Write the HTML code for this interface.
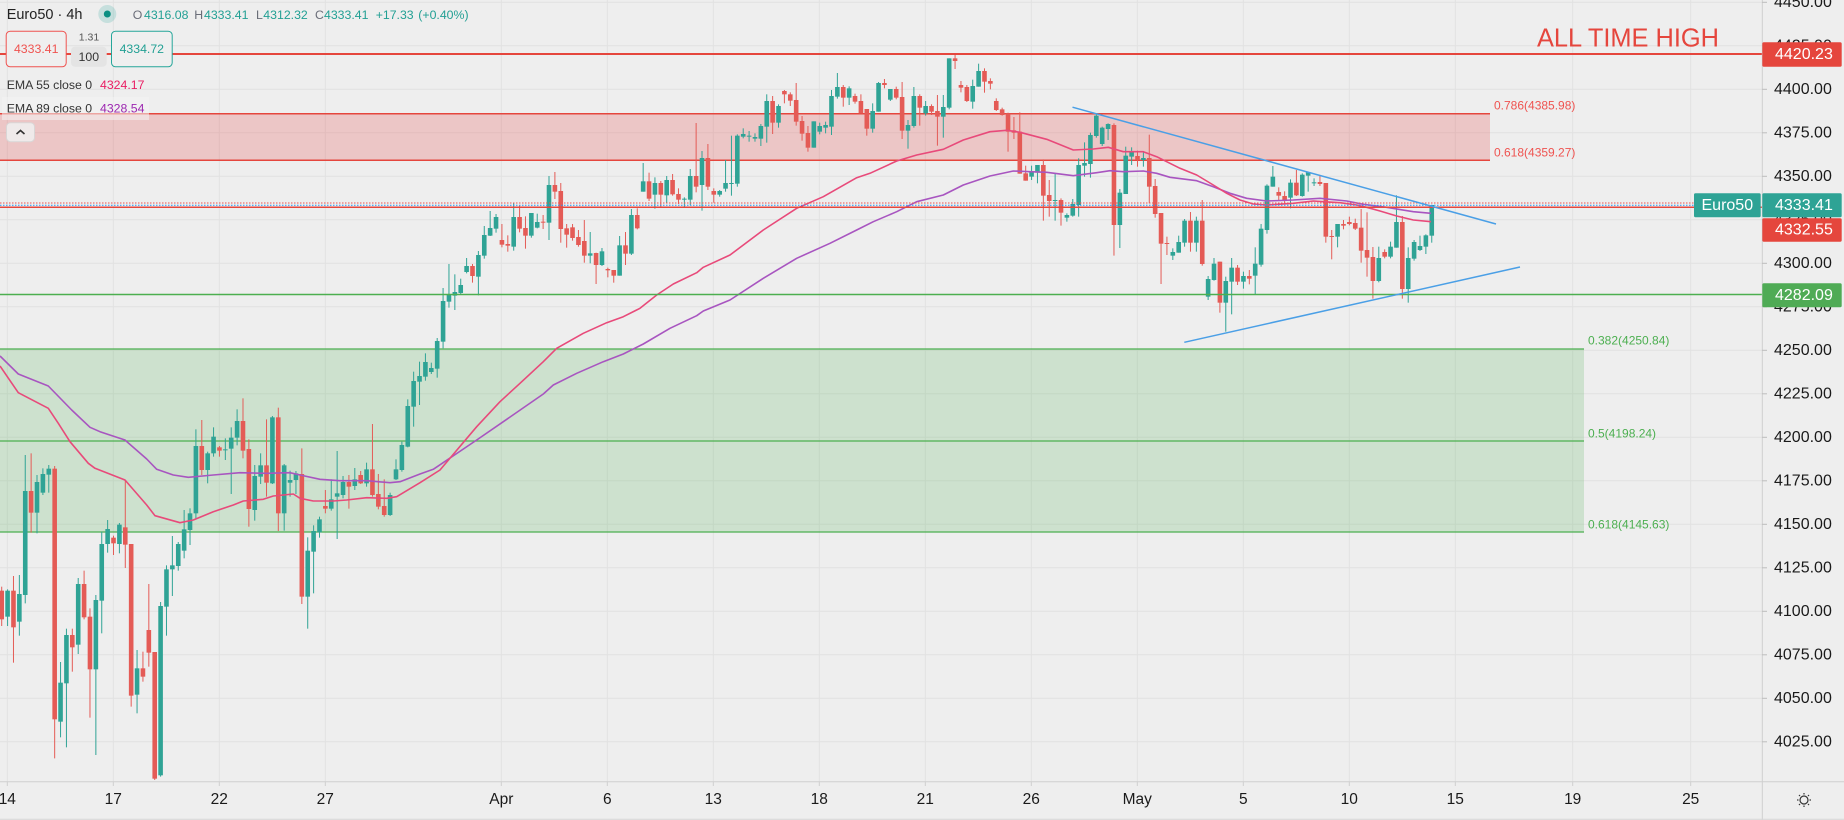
<!DOCTYPE html>
<html><head><meta charset="utf-8">
<style>
html,body{margin:0;padding:0;background:#eeeeee;width:1844px;height:820px;overflow:hidden}
svg{display:block}
text{font-family:"Liberation Sans",Arial,sans-serif}
</style></head>
<body>
<svg id="chart" width="1844" height="820" viewBox="0 0 1844 820" xmlns="http://www.w3.org/2000/svg">
<rect x="0" y="0" width="1844" height="820" fill="#eeeeee"/>
<!-- grid -->
<g stroke="#e1e1e1" stroke-width="1">
<line x1="0" x2="1762" y1="2.3" y2="2.3"/><line x1="0" x2="1762" y1="45.8" y2="45.8"/><line x1="0" x2="1762" y1="89.3" y2="89.3"/><line x1="0" x2="1762" y1="132.8" y2="132.8"/><line x1="0" x2="1762" y1="176.3" y2="176.3"/><line x1="0" x2="1762" y1="219.8" y2="219.8"/><line x1="0" x2="1762" y1="263.3" y2="263.3"/><line x1="0" x2="1762" y1="306.8" y2="306.8"/><line x1="0" x2="1762" y1="350.3" y2="350.3"/><line x1="0" x2="1762" y1="393.8" y2="393.8"/><line x1="0" x2="1762" y1="437.3" y2="437.3"/><line x1="0" x2="1762" y1="480.8" y2="480.8"/><line x1="0" x2="1762" y1="524.3" y2="524.3"/><line x1="0" x2="1762" y1="567.8" y2="567.8"/><line x1="0" x2="1762" y1="611.3" y2="611.3"/><line x1="0" x2="1762" y1="654.8" y2="654.8"/><line x1="0" x2="1762" y1="698.3" y2="698.3"/><line x1="0" x2="1762" y1="741.8" y2="741.8"/>
<line x1="7.3" x2="7.3" y1="0" y2="785"/><line x1="113.3" x2="113.3" y1="0" y2="785"/><line x1="219.3" x2="219.3" y1="0" y2="785"/><line x1="325.3" x2="325.3" y1="0" y2="785"/><line x1="501.3" x2="501.3" y1="0" y2="785"/><line x1="607.3" x2="607.3" y1="0" y2="785"/><line x1="713.3" x2="713.3" y1="0" y2="785"/><line x1="819.3" x2="819.3" y1="0" y2="785"/><line x1="925.3" x2="925.3" y1="0" y2="785"/><line x1="1031.3" x2="1031.3" y1="0" y2="785"/><line x1="1137.3" x2="1137.3" y1="0" y2="785"/><line x1="1243.3" x2="1243.3" y1="0" y2="785"/><line x1="1349.3" x2="1349.3" y1="0" y2="785"/><line x1="1455.3" x2="1455.3" y1="0" y2="785"/><line x1="1572.7" x2="1572.7" y1="0" y2="785"/><line x1="1690.7" x2="1690.7" y1="0" y2="785"/>
</g>
<!-- fib zones -->
<rect x="0" y="113.7" width="1490" height="46.6" fill="rgba(230,60,60,0.22)"/>
<line x1="0" x2="1490" y1="113.7" y2="113.7" stroke="#e5463d" stroke-width="1.5"/>
<line x1="0" x2="1490" y1="160.3" y2="160.3" stroke="#e5463d" stroke-width="1.5"/>
<rect x="0" y="349" width="1584" height="183" fill="rgba(76,175,80,0.2)"/>
<line x1="0" x2="1584" y1="349" y2="349" stroke="#4caf50" stroke-width="1.3"/>
<line x1="0" x2="1584" y1="441" y2="441" stroke="#4caf50" stroke-width="1.3"/>
<line x1="0" x2="1584" y1="532" y2="532" stroke="#4caf50" stroke-width="1.3"/>
<g font-size="12" dominant-baseline="central">
<text x="1494" y="105.7" fill="#ef5350">0.786(4385.98)</text>
<text x="1494" y="152.7" fill="#ef5350">0.618(4359.27)</text>
<text x="1588" y="340.7" fill="#4caf50">0.382(4250.84)</text>
<text x="1588" y="433.3" fill="#4caf50">0.5(4198.24)</text>
<text x="1588" y="524.3" fill="#4caf50">0.618(4145.63)</text>
</g>
<!-- candles -->
<g id="candles"></g>
<!-- EMAs -->
<polyline fill="none" stroke="#a855c0" stroke-width="1.6" stroke-linejoin="round" points="0,356 18.3,374 48.3,386 71.7,410 90,427.3 100,431.7 125,440 146.7,459 156.7,469.3 173.3,475 188.3,477.3 213.3,475 240,472.7 266.7,473.3 290,472.7 300,475 320,479.3 340,480.7 366.7,480.7 390,482.7 400,481.7 420,474 433.3,469.3 476.7,440 503.3,421.7 543.3,394 553.3,385 576.7,373.3 603.3,361.7 623.3,354 643.3,344 670,328.3 696.7,315.7 703.3,311 730,300 763.3,278.3 796.7,258.3 830,243.3 856.7,230 873.3,221.7 896.7,211.7 916.7,201.7 943.3,195 963.3,185 990,176 1013.3,171 1030,171.7 1046.7,172.3 1073.3,175.7 1096.7,172.7 1110,170.7 1123.3,171.7 1143.3,171 1156.7,173.3 1170,177.3 1196.7,180.7 1213.3,186.7 1230,193.3 1246.7,198.3 1266.7,201 1293.3,200 1320,198.3 1346.7,201 1363.3,204.3 1386.7,207.3 1413.3,211.7 1431,213.3"/>
<polyline fill="none" stroke="#e84a7a" stroke-width="1.6" stroke-linejoin="round" points="0,366 18.3,392.7 48.3,408.3 58.3,423.3 70,441.7 88.3,463.3 95,468.3 125,480 146.7,505 155,515.7 180,522.7 193.3,520 213.3,511.7 233.3,505 243.3,501 263.3,499.3 273.3,496 293.3,494 300,498.3 313.3,501 333.3,501 346.7,500 366.7,497.7 386.7,498.3 396.7,496.7 420,482.7 440,470 476.7,426.7 500,401.7 520,383.3 543.3,361.7 556.7,348.3 583.3,333.3 606.7,322.7 623.3,316.7 640,308.3 656.7,295 673.3,284 696.7,272.7 703.3,267.3 730,255 763.3,230 796.7,208.3 823.3,196.7 856.7,177.7 870,173.3 896.7,161 916.7,155 943.3,149.3 963.3,140 990,131.7 1006.7,130.3 1020,132.3 1046.7,139.3 1073.3,150 1093.3,149 1108.3,147.3 1123.3,151.7 1143.3,151.7 1156.7,156.7 1166.7,161.7 1180,168.3 1196.7,175 1213.3,185 1226.7,193.3 1240,200 1253.3,204 1266.7,205 1293.3,203.3 1313.3,201 1323.3,201.7 1340,202.7 1356.7,205 1366.7,207.3 1380,211 1396.7,216 1413.3,220 1431,221.7"/>
<!-- horizontal lines -->
<line x1="0" x2="1762" y1="54" y2="54" stroke="#e5463d" stroke-width="2"/>
<line x1="0" x2="1694" y1="203" y2="203" stroke="#ef5350" stroke-width="1" stroke-dasharray="1.5 1.5"/>
<line x1="0" x2="1694" y1="205.3" y2="205.3" stroke="#2196f3" stroke-width="1" stroke-dasharray="1.5 1.5"/>
<line x1="0" x2="1762" y1="207.2" y2="207.2" stroke="#e5463d" stroke-width="1.5"/>
<line x1="0" x2="1762" y1="294.5" y2="294.5" stroke="#4caf50" stroke-width="1.5"/>
<!-- trendlines -->
<line x1="1072.5" y1="107.2" x2="1496" y2="224" stroke="#4a9fe6" stroke-width="1.5"/>
<line x1="1184.3" y1="342.3" x2="1520" y2="267" stroke="#4a9fe6" stroke-width="1.5"/>
<text x="1537" y="46.7" font-size="26" fill="#e5463d" textLength="182" lengthAdjust="spacingAndGlyphs">ALL TIME HIGH</text>
<!-- legend -->
<text x="6.7" y="15" font-size="14.5" fill="#222" dominant-baseline="central">Euro50 · 4h</text>
<circle cx="107.3" cy="14" r="9" fill="rgba(38,166,154,0.2)"/>
<circle cx="107.3" cy="14" r="3.5" fill="#0b8f82"/>
<g font-size="12.3" dominant-baseline="central">
<text x="132.7" y="15" fill="#6a6d78">O</text><text x="144" y="15" fill="#22a094">4316.08</text>
<text x="194.3" y="15" fill="#6a6d78">H</text><text x="204" y="15" fill="#22a094">4333.41</text>
<text x="256" y="15" fill="#6a6d78">L</text><text x="263.3" y="15" fill="#22a094">4312.32</text>
<text x="315" y="15" fill="#6a6d78">C</text><text x="324" y="15" fill="#22a094">4333.41</text>
<text x="375.7" y="15" fill="#22a094">+17.33</text><text x="418.3" y="15" fill="#22a094">(+0.40%)</text>
</g>
<rect x="6.2" y="31.2" width="60" height="35.6" rx="4" fill="#efefef" stroke="#ef5350" stroke-width="1"/>
<text x="36.2" y="49" font-size="12.3" fill="#ef5350" text-anchor="middle" dominant-baseline="central">4333.41</text>
<text x="89" y="37.5" font-size="10.5" fill="#555" text-anchor="middle" dominant-baseline="central">1.31</text>
<rect x="71" y="46.7" width="35.7" height="20" rx="4" fill="#e4e4e4"/>
<text x="88.8" y="57" font-size="12.3" fill="#333" text-anchor="middle" dominant-baseline="central">100</text>
<rect x="111.5" y="31.2" width="60.7" height="35.6" rx="4" fill="#efefef" stroke="#26a69a" stroke-width="1"/>
<text x="141.8" y="49" font-size="12.3" fill="#22a094" text-anchor="middle" dominant-baseline="central">4334.72</text>
<rect x="2" y="97" width="147" height="23" fill="rgba(244,244,244,0.55)"/>
<g font-size="12.3" dominant-baseline="central">
<text x="6.7" y="85" fill="#333">EMA 55 close 0</text><text x="100" y="85" fill="#e91e63">4324.17</text>
<text x="6.7" y="108.3" fill="#333">EMA 89 close 0</text><text x="100" y="108.3" fill="#9c27b0">4328.54</text>
</g>
<rect x="6.5" y="122.7" width="28" height="19" rx="4" fill="#efeaea" stroke="#d9d6d6" stroke-width="1"/>
<polyline points="16.5,134 20.5,130.5 24.5,134" fill="none" stroke="#333" stroke-width="1.6"/>
<!-- price axis -->
<rect x="1762.3" y="0" width="82" height="820" fill="#eeeeee"/>
<line x1="1762.3" x2="1762.3" y1="0" y2="820" stroke="#cfcfcf" stroke-width="1"/>
<g stroke="#bdbdbd" stroke-width="1">
<line x1="1762" x2="1767" y1="2.3" y2="2.3"/><line x1="1762" x2="1767" y1="45.8" y2="45.8"/><line x1="1762" x2="1767" y1="89.3" y2="89.3"/><line x1="1762" x2="1767" y1="132.8" y2="132.8"/><line x1="1762" x2="1767" y1="176.3" y2="176.3"/><line x1="1762" x2="1767" y1="219.8" y2="219.8"/><line x1="1762" x2="1767" y1="263.3" y2="263.3"/><line x1="1762" x2="1767" y1="306.8" y2="306.8"/><line x1="1762" x2="1767" y1="350.3" y2="350.3"/><line x1="1762" x2="1767" y1="393.8" y2="393.8"/><line x1="1762" x2="1767" y1="437.3" y2="437.3"/><line x1="1762" x2="1767" y1="480.8" y2="480.8"/><line x1="1762" x2="1767" y1="524.3" y2="524.3"/><line x1="1762" x2="1767" y1="567.8" y2="567.8"/><line x1="1762" x2="1767" y1="611.3" y2="611.3"/><line x1="1762" x2="1767" y1="654.8" y2="654.8"/><line x1="1762" x2="1767" y1="698.3" y2="698.3"/><line x1="1762" x2="1767" y1="741.8" y2="741.8"/>
</g>
<g font-size="16" fill="#1a1a1a" dominant-baseline="central">
<text x="1774" y="2.3">4450.00</text><text x="1774" y="45.8">4425.00</text><text x="1774" y="89.3">4400.00</text><text x="1774" y="132.8">4375.00</text><text x="1774" y="176.3">4350.00</text><text x="1774" y="219.8">4325.00</text><text x="1774" y="263.3">4300.00</text><text x="1774" y="306.8">4275.00</text><text x="1774" y="350.3">4250.00</text><text x="1774" y="393.8">4225.00</text><text x="1774" y="437.3">4200.00</text><text x="1774" y="480.8">4175.00</text><text x="1774" y="524.3">4150.00</text><text x="1774" y="567.8">4125.00</text><text x="1774" y="611.3">4100.00</text><text x="1774" y="654.8">4075.00</text><text x="1774" y="698.3">4050.00</text><text x="1774" y="741.8">4025.00</text>
</g>
<rect x="1762.3" y="42.3" width="79.4" height="24.4" rx="1.5" fill="#e5463d"/>
<rect x="1694" y="193.3" width="66.7" height="24" rx="1.5" fill="#2ea395"/>
<rect x="1762.3" y="193.3" width="79.4" height="24" rx="1.5" fill="#2ea395"/>
<rect x="1762.3" y="218.3" width="79.4" height="23.4" rx="1.5" fill="#e5463d"/>
<rect x="1762.3" y="283.3" width="79.4" height="24" rx="1.5" fill="#4fab55"/>
<g font-size="16" fill="#ffffff" dominant-baseline="central">
<text x="1775" y="54.5">4420.23</text>
<text x="1727.3" y="205.3" text-anchor="middle">Euro50</text>
<text x="1775" y="205.3">4333.41</text>
<text x="1775" y="230">4332.55</text>
<text x="1775" y="295.3">4282.09</text>
</g>
<!-- time axis -->
<rect x="0" y="781.7" width="1844" height="38.3" fill="#eeeeee"/>
<line x1="0" x2="1844" y1="781.7" y2="781.7" stroke="#cfcfcf" stroke-width="1"/>
<line x1="1762.3" x2="1762.3" y1="781.7" y2="820" stroke="#cfcfcf" stroke-width="1"/>
<line x1="0" x2="1844" y1="819.3" y2="819.3" stroke="#d6d6d6" stroke-width="1"/>
<g stroke="#cfcfcf" stroke-width="1">
<line x1="7.3" x2="7.3" y1="782" y2="786"/><line x1="113.3" x2="113.3" y1="782" y2="786"/><line x1="219.3" x2="219.3" y1="782" y2="786"/><line x1="325.3" x2="325.3" y1="782" y2="786"/><line x1="501.3" x2="501.3" y1="782" y2="786"/><line x1="607.3" x2="607.3" y1="782" y2="786"/><line x1="713.3" x2="713.3" y1="782" y2="786"/><line x1="819.3" x2="819.3" y1="782" y2="786"/><line x1="925.3" x2="925.3" y1="782" y2="786"/><line x1="1031.3" x2="1031.3" y1="782" y2="786"/><line x1="1137.3" x2="1137.3" y1="782" y2="786"/><line x1="1243.3" x2="1243.3" y1="782" y2="786"/><line x1="1349.3" x2="1349.3" y1="782" y2="786"/><line x1="1455.3" x2="1455.3" y1="782" y2="786"/><line x1="1572.7" x2="1572.7" y1="782" y2="786"/><line x1="1690.7" x2="1690.7" y1="782" y2="786"/>
</g>
<g font-size="15.5" fill="#1a1a1a" text-anchor="middle" dominant-baseline="central">
<text x="7.3" y="799.5">14</text><text x="113.3" y="799.5">17</text><text x="219.3" y="799.5">22</text><text x="325.3" y="799.5">27</text><text x="501.3" y="799.5">Apr</text><text x="607.3" y="799.5">6</text><text x="713.3" y="799.5">13</text><text x="819.3" y="799.5">18</text><text x="925.3" y="799.5">21</text><text x="1031.3" y="799.5">26</text><text x="1137.3" y="799.5">May</text><text x="1243.3" y="799.5">5</text><text x="1349.3" y="799.5">10</text><text x="1455.3" y="799.5">15</text><text x="1572.7" y="799.5">19</text><text x="1690.7" y="799.5">25</text>
</g>
<g stroke="#333" stroke-width="1.2" fill="none">
<circle cx="1804" cy="800" r="4"/>
<line x1="1804" y1="793" x2="1804" y2="794.5"/><line x1="1804" y1="805.5" x2="1804" y2="807"/>
<line x1="1797" y1="800" x2="1798.5" y2="800"/><line x1="1809.5" y1="800" x2="1811" y2="800"/>
<line x1="1799" y1="795" x2="1800" y2="796"/><line x1="1808" y1="804" x2="1809" y2="805"/>
<line x1="1809" y1="795" x2="1808" y2="796"/><line x1="1800" y1="804" x2="1799" y2="805"/>
</g>
</svg>
<script>
(function(){
var segs=[
[340,[[0,752,838,740,858],[1,752,830,748,858],[0,752,862,708,968],[1,762,845,705,887],[1,453,765,345,790],[0,453,518,340,578],[1,426,518,405,580],[1,402,458,385,465],[1,386,404,375,458],[0,386,1138,378,1255],
[1,1028,1145,966,1192],[1,885,1030,866,1222],[0,885,922,866,995],[1,732,914,714,942],[0,732,832,692,838],[0,830,988,805,1133],[1,780,988,765,1245],[1,612,782,575,880],[1,567,612,540,638],[0,593,610,587,645],
[1,554,612,549,640],[0,562,614,420,684],[0,612,1067,612,1100],[1,985,1064,930,1120],[0,985,1010,935,1025],[0,870,938,732,980],[0,936,1316,936,1320],[1,798,1306,786,1310],[1,688,800,676,887],[1,676,688,588,768],
[1,612,678,606,692],[1,568,632,510,655],[1,520,570,505,615],[1,318,520,268,538],[0,318,390,240,405],[1,340,390,335,430],[1,290,340,262,350],[0,322,332,318,350],[1,328,330,295,360],[1,293,326,262,462],
[1,243,293,208,316],[0,243,332,175,355],[0,327,507,298,560],[1,408,510,375,542],[1,376,410,340,432],[0,376,428,238,470],[1,232,430,228,432],[0,232,520,203,573],[1,376,520,372,572],[1,420,428,392,470],
[1,400,420,393,462],[0,402,770,325,792],[1,632,770,592,866],[1,573,635,556,760],[1,538,577,530,593],[0,498,506,450,520],[1,478,506,418,512],[1,460,470,333,597],[1,426,465,408,475],[0,426,440,405,506],
[1,418,438,384,450],[0,405,430,393,432],[1,388,430,368,440],[0,388,465,252,470],[0,462,500,402,508],[0,498,525,418,530],[1,465,525,458,528],[1,388,418,358,420],[1,315,390,305,395],[1,198,320,178,322],
[1,123,200,95,260],[1,108,125,65,195]]],
[140,[[1,666,710,640,722],[1,684,696,668,702],[1,603,686,594,713],[1,483,605,444,625],[1,462,485,372,503],[1,456,467,403,510],[1,435,459,416,462],[1,378,396,354,400],[0,378,408,372,428],[1,345,410,333,466],
[1,285,347,258,356],[1,264,287,213,288],[1,231,266,222,278],[0,300,314,252,322],[0,312,317,286,335],[1,231,320,190,332],[0,231,266,197,277],[0,264,287,229,326],[1,219,287,219,293],[1,246,263,221,265],
[0,245,247,225,267],[1,135,248,108,300],[0,135,155,96,177],[0,153,267,129,308],[0,265,284,252,323],[0,262,294,252,302],[0,291,315,270,320],[0,303,347,240,368],[1,340,347,276,370],[0,339,375,338,432],
[1,334,375,324,378],[0,387,391,383,412],[0,390,407,390,428],[1,316,407,288,407],[0,316,341,276,375],[1,225,341,207,345],[0,225,265,205,268],[1,124,155,69,155],[0,124,176,98,183],[1,129,164,112,206],
[0,129,164,123,203],[1,120,166,108,190],[0,120,163,102,167],[0,162,179,145,192],[1,176,178,172,200],[1,108,179,87,196],[0,108,140,-51,157],[1,54,135,33,212],[0,54,140,12,150],[0,153,164,145,188],
[1,153,164,150,170],[1,129,146,60,155],[1,129,131,-13,167]]],
[45,[[1,272,416,268,425],[1,267,275,250,280],[1,272,275,258,290],[1,276,281,265,290],[1,243,281,237,303],[1,168,245,148,293],[0,168,233,153,267],[1,183,233,178,248],[0,138,148,135,175],[0,148,167,142,183],
[0,165,230,114,242],[0,228,266,213,287],[0,264,308,243,320],[1,229,308,229,308],[1,243,260,233,268],[1,240,248,230,265],[1,153,245,135,270],[1,126,155,84,161],[0,126,158,120,185],[1,130,158,124,180],
[0,153,170,146,176],[0,168,205,148,205],[0,192,251,192,272],[1,198,251,175,263],[1,114,200,111,200],[0,114,120,102,130],[1,132,164,132,168],[0,132,158,125,163],[0,156,257,111,282],[1,240,257,225,311],
[1,153,243,126,248],[0,153,188,148,242],[1,183,205,168,212],[0,183,200,178,210],[0,198,215,150,302],[1,186,215,150,278],[1,40,188,40,193],[0,40,48,28,72],[0,120,128,108,142],[0,126,168,120,171],
[1,123,170,104,191],[1,78,125,56,125],[0,78,110,70,143],[0,108,116,100,133],[0,168,195,160,198],[0,193,210,188,212],[0,205,260,203,320],[0,256,263,216,282],[0,260,386,202,386],[0,385,407,362,407],
[1,380,395,362,405],[1,360,383,360,415],[0,360,452,343,527],[0,450,468,405,515],[1,465,467,385,527],[0,465,503,460,542],[1,510,518,505,530],[1,477,512,462,515],[1,360,480,340,515],[1,354,362,292,395]]],
[90,[[1,135,222,128,263],[1,77,138,72,143],[1,113,162,110,168],[1,102,117,100,150],[0,105,405,100,497],[1,308,405,297,474],[1,197,312,170,312],[1,185,200,172,225],[0,198,210,182,230],[1,204,210,183,230],
[0,204,290,134,340],[0,288,372,267,383],[0,369,461,369,582],[0,459,461,440,495],[1,486,497,475,510],[1,456,488,437,488],[1,392,458,387,470],[0,392,458,366,485],[1,392,458,380,485],[0,392,522,330,527],
[1,567,620,558,630],[1,521,570,504,572],[0,515,638,515,668],[1,573,638,560,725],[1,533,575,504,673],[0,533,575,525,585],[1,558,575,545,596],[0,558,566,540,583],[1,521,557,472,615],[1,416,524,402,530],
[1,287,420,283,431],[1,260,290,228,290],[0,306,317,292,330],[0,318,332,304,340],[1,278,323,268,355],[0,278,316,240,318],[1,254,318,250,320],[1,246,257,246,305],[1,277,278,265,288],[0,276,282,257,288],
[0,279,440,279,458],[0,438,440,420,508],[1,402,440,402,472],[0,402,407,390,418],[0,396,402,380,406],[0,399,416,386,420],[0,413,482,357,518],[0,480,503,367,560],[0,501,573,471,626],[1,504,573,470,577],
[0,486,500,478,505],[1,470,500,455,505],[1,396,473,316,473],[0,396,597,378,626],[1,504,597,472,638],[1,456,506,450,512],[1,468,480,437,483],[1,436,470,433,492],[1,345,437,345,458]]]
];
var ns="http://www.w3.org/2000/svg";
var g=document.getElementById("candles");
var idx=0;
for(var s=0;s<segs.length;s++){
  var off=segs[s][0],arr=segs[s][1];
  for(var k=0;k<arr.length;k++){
    var c=arr[k];
    var x=1.7+idx*5.885; idx++;
    var col=c[0]?"#2fa395":"#e45b56";
    var bt=off+c[1]/3,bb=off+c[2]/3,wt=off+c[3]/3,wb=off+c[4]/3;
    var h=Math.max(bb-bt,1);
    var l=document.createElementNS(ns,"line");
    l.setAttribute("x1",x);l.setAttribute("x2",x);
    l.setAttribute("y1",wt);l.setAttribute("y2",wb);
    l.setAttribute("stroke",col);l.setAttribute("stroke-width","1");
    g.appendChild(l);
    var r=document.createElementNS(ns,"rect");
    r.setAttribute("x",x-2.3);r.setAttribute("y",bt);
    r.setAttribute("width","4.6");r.setAttribute("height",h);
    r.setAttribute("fill",col);
    g.appendChild(r);
  }
}
})();
</script>
</body></html>
